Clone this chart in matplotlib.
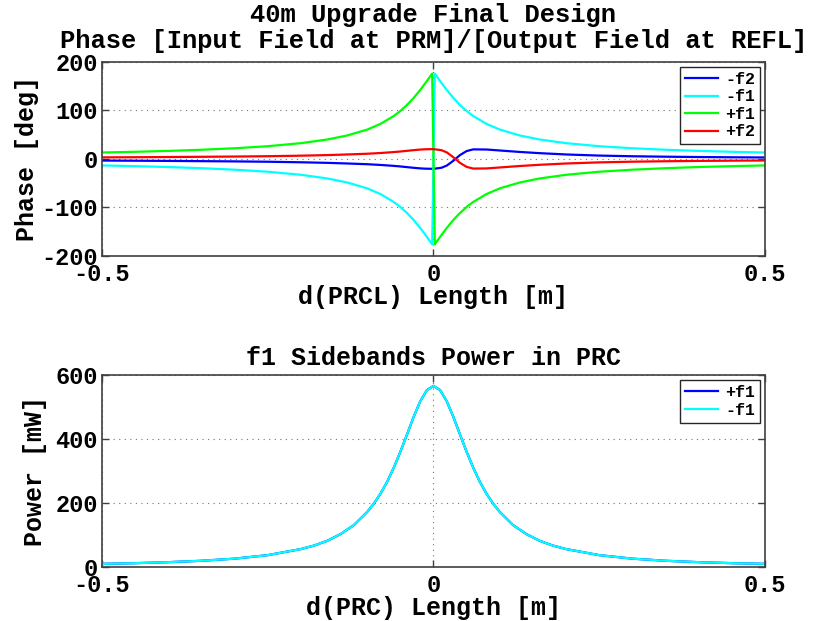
import matplotlib
matplotlib.use('Agg')
import matplotlib.pyplot as plt
import numpy as np

# values
x_ph = [-0.5, -0.45, -0.4, -0.35, -0.3, -0.25, -0.2, -0.16, -0.13, -0.1, -0.08, -0.06,
        -0.05, -0.04, -0.03, -0.02, -0.012, -0.006, -0.002,
        0.002, 0.006, 0.012, 0.02, 0.03, 0.04, 0.05, 0.06, 0.08, 0.1, 0.13, 0.16,
        0.2, 0.25, 0.3, 0.35, 0.4, 0.45, 0.5]

plus_f1 = [13.3, 14.8, 16.6, 19.0, 22.1, 26.3, 32.6, 40.2, 48.5, 60.6, 72.3, 88.5,
           99.0, 111.3, 125.7, 142.3, 156.8, 168.3, 176.1,
           -176.1, -168.3, -156.8, -142.3, -125.7, -111.3, -99.0, -88.5, -72.3, -60.6, -48.5, -40.2,
           -32.6, -26.3, -22.1, -19.0, -16.6, -14.8, -13.3]
minus_f1 = [-v for v in plus_f1]

minus_f2 = [-3.3, -3.6, -4.0, -4.5, -5.0, -5.7, -6.8, -8.0, -9.3, -10.8, -12.3, -14.2,
            -15.4, -16.8, -18.2, -19.4, -20.0, -20.2, -20.2,
            -20.0, -19.2, -18.1, -13.6, -3.6, 8.1, 16.3, 19.8, 19.5, 17.5, 14.5, 12.0,
            9.3, 7.0, 5.6, 4.7, 4.0, 3.5, 3.1]
plus_f2 = [-v for v in minus_f2]

x_pw = [-0.5, -0.45, -0.4, -0.35, -0.3, -0.25, -0.2, -0.18, -0.16, -0.14, -0.12, -0.1,
        -0.09, -0.08, -0.07, -0.06, -0.05, -0.04, -0.03, -0.02, -0.01, 0.0,
        0.01, 0.02, 0.03, 0.04, 0.05, 0.06, 0.07, 0.08, 0.09, 0.1,
        0.12, 0.14, 0.16, 0.18, 0.2, 0.25, 0.3, 0.35, 0.4, 0.45, 0.5]
pw_half = [9.7, 11.9, 15.0, 19.4, 26.0, 37.0, 56.0, 67.0, 82.0, 103.0, 131.0, 172.0,
           198.0, 229.0, 266.0, 310.0, 360.0, 414.0, 469.0, 518.0, 553.0]
pw_f1 = pw_half + [566.0] + pw_half[::-1]

plt.rcParams['font.family'] = ['Liberation Mono', 'DejaVu Sans Mono']
plt.rcParams['font.weight'] = 'bold'
plt.rcParams['axes.labelweight'] = 'bold'
plt.rcParams['axes.titleweight'] = 'bold'
plt.rcParams['font.size'] = 17
plt.rcParams['axes.unicode_minus'] = False

fig = plt.figure(figsize=(8.14, 6.21), dpi=100)
ax1 = fig.add_axes([0.1253, 0.5878, 0.8145, 0.3124])
ax2 = fig.add_axes([0.1253, 0.0870, 0.8145, 0.3090])

ax1.plot(x_ph, minus_f2, color='#0000ff', lw=1.6, label='-f2')
ax1.plot(x_ph, minus_f1, color='#00ffff', lw=1.6, label='-f1')
ax1.plot(x_ph, plus_f1, color='#00ff00', lw=1.6, label='+f1')
ax1.plot(x_ph, plus_f2, color='#ff0000', lw=1.6, label='+f2')
ax1.set_ylim(-200, 200)
ax1.set_yticks([-200, -100, 0, 100, 200])
ax1.set_title('40m Upgrade Final Design\nPhase [Input Field at PRM]/[Output Field at REFL]',
              fontsize=18.4, linespacing=1.1, pad=10)
ax1.set_xlabel('d(PRCL) Length [m]', fontsize=18, labelpad=-1)
ax1.set_ylabel('Phase [deg]', fontsize=18, labelpad=2)

ax2.plot(x_pw, pw_f1, color='#0000ff', lw=1.6, label='+f1')
ax2.plot(x_pw, pw_f1, color='#00ffff', lw=1.6, label='-f1')
ax2.set_ylim(0, 600)
ax2.set_yticks([0, 200, 400, 600])
ax2.set_title('f1 Sidebands Power in PRC', fontsize=18, pad=7)
ax2.set_xlabel('d(PRC) Length [m]', fontsize=18, labelpad=-1)
ax2.set_ylabel('Power [mW]', fontsize=18, labelpad=6)

for ax in (ax1, ax2):
    ax.set_xlim(-0.5, 0.5)
    ax.set_xticks([-0.5, 0, 0.5])
    ax.set_xticklabels(['-0.5', '0', '0.5'])
    ax.grid(True, linestyle=(0, (1, 4)), color='0.45', linewidth=0.8)
    ax.tick_params(direction='in', top=True, right=True, length=5, width=1,
                   color='0.25', pad=3)
    ax.tick_params(axis='x', pad=5)
    for s in ax.spines.values():
        s.set_color('0.25')
        s.set_linewidth(1.2)
    leg = ax.legend(loc='upper right', fontsize=12, fancybox=False, framealpha=1,
                    edgecolor='0.15', borderpad=0.3, labelspacing=0.15,
                    handlelength=2.0, handletextpad=0.4, borderaxespad=0.3)
    leg.get_frame().set_linewidth(1.0)

fig.savefig('out.png', dpi=100)
